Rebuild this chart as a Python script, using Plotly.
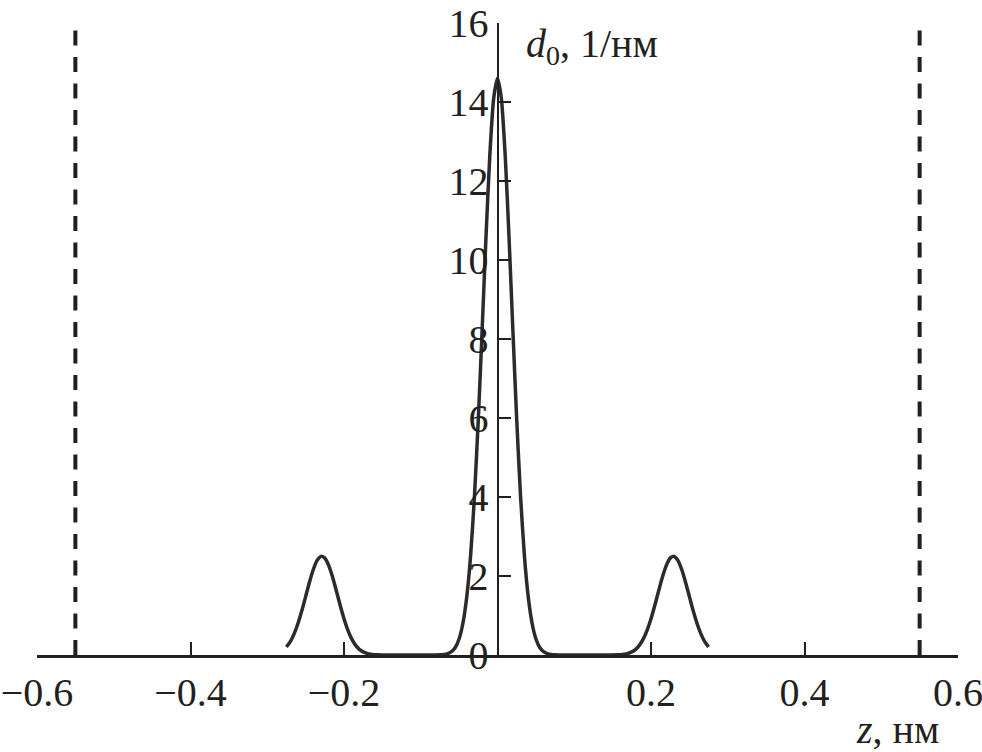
import plotly.graph_objects as go

# Density profile d0(z)
z_vals = [-0.275, -0.27, -0.265, -0.26, -0.255, -0.25, -0.245, -0.24, -0.235, -0.23,
          -0.225, -0.22, -0.215, -0.21, -0.205, -0.20, -0.195, -0.19, -0.185, -0.18,
          -0.175, -0.17, -0.165, -0.16, -0.155, -0.15, -0.14, -0.13, -0.12, -0.11,
          -0.10, -0.09, -0.08, -0.075, -0.07, -0.065, -0.06, -0.055, -0.05, -0.045,
          -0.04, -0.035, -0.03, -0.025, -0.02, -0.015, -0.01, -0.005,
          0.0,
          0.005, 0.01, 0.015, 0.02, 0.025, 0.03, 0.035, 0.04, 0.045, 0.05,
          0.055, 0.06, 0.065, 0.07, 0.075, 0.08, 0.09, 0.10, 0.11, 0.12,
          0.13, 0.14, 0.15, 0.155, 0.16, 0.165, 0.17, 0.175, 0.18, 0.185,
          0.19, 0.195, 0.20, 0.205, 0.21, 0.215, 0.22, 0.225, 0.23, 0.235,
          0.24, 0.245, 0.25, 0.255, 0.26, 0.265, 0.27, 0.275]
d0_vals = [0.202, 0.338, 0.535, 0.797, 1.118, 1.479, 1.844, 2.165, 2.395, 2.497,
           2.453, 2.270, 1.980, 1.627, 1.260, 0.919, 0.632, 0.409, 0.250, 0.144,
           0.078, 0.040, 0.019, 0.009, 0.004, 0.002, 0.0, 0.0, 0.0, 0.0,
           0.0, 0.0, 0.002, 0.005, 0.013, 0.035, 0.085, 0.19, 0.41, 0.81,
           1.48, 2.53, 4.03, 5.97, 8.24, 10.58, 12.66, 14.09,
           14.6,
           14.09, 12.66, 10.58, 8.24, 5.97, 4.03, 2.53, 1.48, 0.81, 0.41,
           0.19, 0.085, 0.035, 0.013, 0.005, 0.002, 0.0, 0.0, 0.0, 0.0,
           0.0, 0.0, 0.002, 0.004, 0.009, 0.019, 0.040, 0.078, 0.144, 0.250,
           0.409, 0.632, 0.919, 1.260, 1.627, 1.980, 2.270, 2.453, 2.497, 2.395,
           2.165, 1.844, 1.479, 1.118, 0.797, 0.535, 0.338, 0.202]

# Boundaries (dashed lines)
wall_z = [-0.55, 0.55]
wall_d = [0, 16]

x_ticks = [-0.6, -0.4, -0.2, 0.2, 0.4, 0.6]
x_tick_text = ["\u22120.6", "\u22120.4", "\u22120.2", "0.2", "0.4", "0.6"]
y_ticks = [0, 2, 4, 6, 8, 10, 12, 14, 16]
y_tick_text = ["0", "2", "4", "6", "8", "10", "12", "14", "16"]

FONT = "Liberation Serif"
INK = "#231f20"

fig = go.Figure()
for wz in wall_z:
    fig.add_trace(go.Scatter(x=[wz, wz], y=wall_d, mode="lines",
                             line=dict(color=INK, width=4, dash="15px,11.5px"),
                             showlegend=False, hoverinfo="skip"))
fig.add_trace(go.Scatter(x=z_vals, y=d0_vals, mode="lines",
                         line=dict(color="#2b2b2b", width=3.5, shape="spline", smoothing=0.6),
                         showlegend=False))

fig.update_layout(
    width=982, height=752,
    margin=dict(l=37, r=24, t=23, b=97, autoexpand=False),
    paper_bgcolor="white", plot_bgcolor="white",
    font=dict(family=FONT, size=40, color=INK),
    xaxis=dict(range=[-0.6, 0.6], tickvals=x_ticks, ticktext=x_tick_text,
               ticks="inside", ticklen=13, tickwidth=2, tickcolor=INK,
               showline=True, linecolor=INK, linewidth=2.5,
               showgrid=False, zeroline=False, automargin=False,
               ticklabeloverflow="allow",
               tickfont=dict(family=FONT, size=40, color=INK)),
    yaxis=dict(range=[0, 16], tickvals=y_ticks, ticktext=y_tick_text,
               anchor="free", position=0.5,
               ticks="inside", ticklen=12, tickwidth=2, tickcolor=INK,
               showline=True, linecolor=INK, linewidth=2,
               showgrid=False, zeroline=False, automargin=False,
               ticklabeloverflow="allow",
               tickfont=dict(family=FONT, size=40, color=INK)),
    annotations=[
        dict(text="<i>d</i><sub>0</sub>, 1/нм", x=0.035, y=16, xref="x", yref="y",
             xanchor="left", yanchor="top", showarrow=False, yshift=4,
             font=dict(family=FONT, size=40, color=INK)),
        dict(text="<i>z</i>, нм", x=0.578, y=0, xref="x", yref="y",
             xanchor="right", yanchor="top", showarrow=False, yshift=-50,
             font=dict(family=FONT, size=40, color=INK)),
    ],
)

# Remove the default page margin so the figure fills the window exactly.
fig.write_html("out.html", config={"displayModeBar": False},
               post_script="document.body.style.margin='0';document.body.style.overflow='hidden';")
